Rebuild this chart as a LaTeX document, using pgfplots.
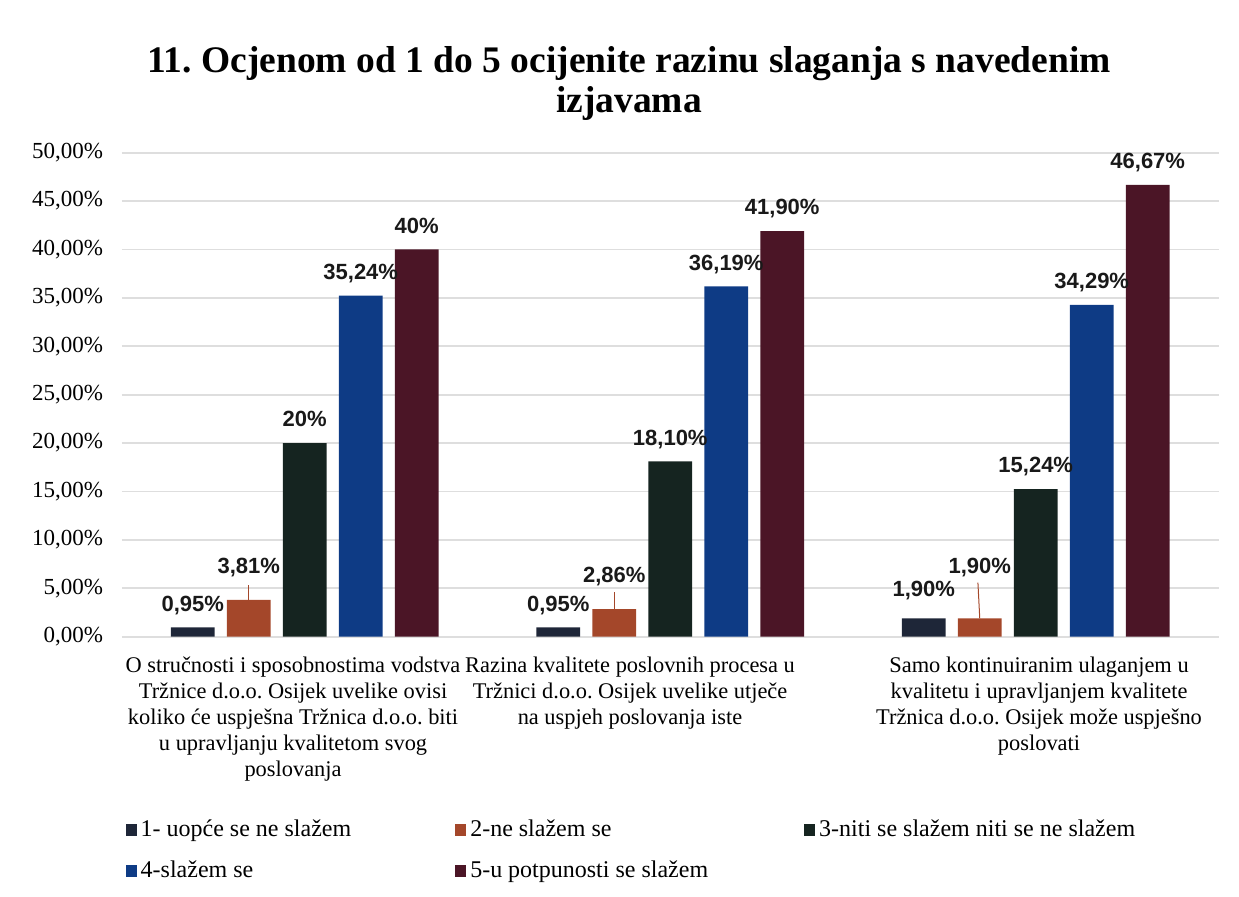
\documentclass[border=0pt]{standalone}
\usepackage{fontspec}
\setmainfont{Liberation Serif}
\newfontfamily\labelfont{Liberation Sans}
\usepackage{pgfplots}
\usepackage{pgfplotstable}
\pgfplotsset{compat=1.18}
\frenchspacing
\definecolor{cA}{HTML}{1E2638}
\definecolor{cB}{HTML}{A4472A}
\definecolor{cC}{HTML}{152420}
\definecolor{cD}{HTML}{0E3B85}
\definecolor{cE}{HTML}{4B1526}
\definecolor{gridc}{HTML}{DEDEDE}

\pgfplotstableread{
x y lab dy
-0.3064 0.95 0,95 8.1
0.6936 0.95 0,95 8.1
1.6936 1.90 1,90 11.1
}\serA
\pgfplotstableread{
x y lab dy
-0.1532 3.81 3,81 13.1
0.8468 2.86 2,86 13.1
1.8468 1.90 1,90 22.6
}\serB
\pgfplotstableread{
x y lab dy
0 20 20 8.1
1 18.10 18,10 8.1
2 15.24 15,24 8.1
}\serC
\pgfplotstableread{
x y lab dy
0.1532 35.24 35,24 8.1
1.1532 36.19 36,19 8.1
2.1532 34.29 34,29 8.1
}\serD
\pgfplotstableread{
x y lab dy
0.3064 40 40 8.1
1.3064 41.90 41,90 8.1
2.3064 46.67 46,67 8.1
}\serE

\begin{document}
\frenchspacing
\begin{tikzpicture}
\useasboundingbox (-61pt,-130.15pt) rectangle (558.5pt,318.35pt);
\begin{axis}[
  at={(0,0)}, anchor=south west,
  scale only axis, width=548.25pt, height=242pt,
  xmin=-0.5, xmax=2.5, ymin=0, ymax=50,
  clip=false,
  axis line style={draw=none},
  tick style={draw=none},
  major tick length=0pt,
  ymajorgrids,
  grid style={draw=gridc, line width=0.9pt},
  ytick={0,5,...,50},
  /pgf/number format/assume math mode=true,
  yticklabel={\pgfmathprintnumber[fixed,fixed zerofill,precision=2,use comma]{\tick}\%},
  yticklabel style={font=\fontsize{11.5}{13}\selectfont, xshift=-6pt},
  xtick={-0.032,0.89,2.009},
  xticklabels={
    {O stručnosti i sposobnostima vodstva\\Tržnice d.o.o. Osijek uvelike ovisi\\koliko će uspješna Tržnica d.o.o. biti\\u upravljanju kvalitetom svog\\poslovanja},
    {Razina kvalitete poslovnih procesa u\\Tržnici d.o.o. Osijek uvelike utječe\\na uspjeh poslovanja iste},
    {Samo kontinuiranim ulaganjem u\\kvalitetu i upravljanjem kvalitete\\Tržnica d.o.o. Osijek može uspješno\\poslovati}},
  xticklabel style={font=\fontsize{11.2}{12.9}\selectfont, align=center, anchor=north, yshift=-6.8pt},
  title={11. Ocjenom od 1 do 5 ocijenite razinu slaganja s navedenim\\izjavama},
  title style={font=\bfseries\fontsize{18.75}{20}\selectfont, align=center, at={(0.4624,1)}, anchor=center, yshift=28.5pt},
  legend columns=3,
  legend cell align=left,
  legend style={draw=none, fill=none, at={(0.003,-0.37)}, anchor=north west,
    font=\fontsize{12}{14}\selectfont, inner sep=0pt,
    /tikz/column 2/.style={column sep=50pt},
    /tikz/column 4/.style={column sep=46pt},
    row sep=6.5pt},
  legend image code/.code={\fill[#1] (0pt,-3pt) rectangle (5.5pt,3pt);},
  nodes near coords={\pgfplotspointmeta\%},
  point meta=explicit symbolic,
  visualization depends on={\thisrow{dy} \as \labdy},
  every node near coord/.append style={font=\labelfont\bfseries\fontsize{11}{13}\selectfont, text=black!90, anchor=base, yshift=\labdy},
]
\addplot[ybar, bar width=0.12, bar shift=0pt, fill=cA, draw=none] table[x=x,y=y,meta=lab]{\serA};
\addlegendentry{1- uopće se ne slažem}
\addplot[ybar, bar width=0.12, bar shift=0pt, fill=cB, draw=none] table[x=x,y=y,meta=lab]{\serB};
\addlegendentry{2-ne slažem se}
\addplot[ybar, bar width=0.12, bar shift=0pt, fill=cC, draw=none] table[x=x,y=y,meta=lab]{\serC};
\addlegendentry{3-niti se slažem niti se ne slažem}
\addplot[ybar, bar width=0.12, bar shift=0pt, fill=cD, draw=none] table[x=x,y=y,meta=lab]{\serD};
\addlegendentry{4-slažem se}
\addplot[ybar, bar width=0.12, bar shift=0pt, fill=cE, draw=none] table[x=x,y=y,meta=lab]{\serE};
\addlegendentry{5-u potpunosti se slažem}
\draw[cB, line width=0.5pt] (axis cs:-0.1532,3.81) -- (axis cs:-0.1532,5.37);
\draw[cB, line width=0.5pt] (axis cs:0.8468,2.86) -- (axis cs:0.8468,4.65);
\draw[cB, line width=0.5pt] (axis cs:1.8468,1.90) -- (axis cs:1.8418,5.58);
\end{axis}
\end{tikzpicture}
\end{document}
